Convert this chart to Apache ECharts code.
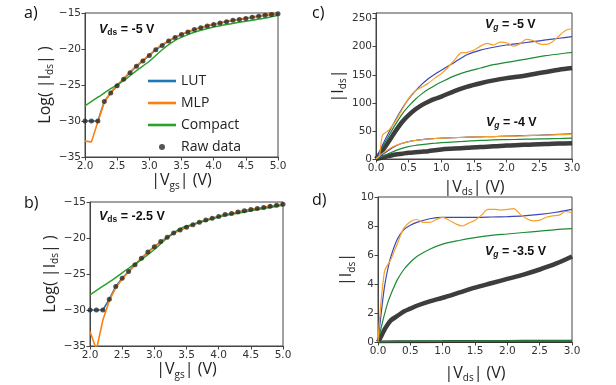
<!DOCTYPE html>
<html><head><meta charset="utf-8">
<script src="https://cdn.jsdelivr.net/npm/echarts@6/dist/echarts.min.js"></script>
<style>html,body{margin:0;padding:0;background:#fff}#c{width:616px;height:385px}</style>
</head><body><div id="c"></div>
<script>
// ---------- panel a / b : transfer curves ----------
const vgs = [2.0,2.1,2.2,2.3,2.4,2.5,2.6,2.7,2.8,2.9,3.0,3.1,3.2,3.3,3.4,3.5,3.6,3.7,3.8,3.9,4.0,4.1,4.2,4.3,4.4,4.5,4.6,4.7,4.8,4.9,5.0];
const rawA = [-30,-30,-30,-27.3,-26.1,-25.1,-24.2,-23.3,-22.4,-21.65,-20.9,-20.1,-19.5,-18.9,-18.4,-18.0,-17.65,-17.3,-17.05,-16.8,-16.6,-16.4,-16.2,-16.0,-15.9,-15.75,-15.6,-15.45,-15.3,-15.2,-15.1];
const lutA = [-30,-30,-30,-27.3,-26.1,-25.1,-24.2,-23.3,-22.4,-21.65,-20.9,-20.1,-19.5,-18.9,-18.4,-18.0,-17.65,-17.3,-17.05,-16.8,-16.6,-16.4,-16.2,-16.0,-15.9,-15.75,-15.6,-15.45,-15.3,-15.2,-15.1];
const mlpA = [-32.8,-32.9,-30.1,-27.4,-26.0,-25.0,-24.1,-23.2,-22.3,-21.55,-20.8,-20.0,-19.4,-18.85,-18.35,-17.95,-17.6,-17.25,-17.0,-16.75,-16.55,-16.35,-16.15,-16.0,-15.85,-15.7,-15.55,-15.4,-15.3,-15.2,-15.05];
const vgsCompact = [2.0,2.2,2.4,2.6,2.8,3.0,3.2,3.4,3.6,3.8,4.0,4.2,4.4,4.6,4.8,5.0];
const compactA = [-27.9,-26.7,-25.5,-24.4,-23.0,-21.7,-20.1,-18.8,-18.0,-17.4,-16.95,-16.6,-16.3,-16.0,-15.7,-15.3];

const rawB = [-30,-30,-30,-28.5,-26.75,-25.6,-24.65,-23.7,-22.8,-21.95,-21.2,-20.5,-19.9,-19.3,-18.9,-18.5,-18.15,-17.8,-17.5,-17.25,-17.0,-16.75,-16.6,-16.4,-16.2,-16.05,-15.9,-15.75,-15.6,-15.45,-15.3];
const lutB = [-30,-30,-30,-28.5,-26.75,-25.6,-24.65,-23.7,-22.8,-21.95,-21.2,-20.5,-19.9,-19.3,-18.9,-18.5,-18.15,-17.8,-17.5,-17.25,-17.0,-16.75,-16.6,-16.4,-16.2,-16.05,-15.9,-15.75,-15.6,-15.45,-15.3];
const mlpB = [-33.0,-35.5,-31.4,-28.7,-26.9,-25.7,-24.7,-23.75,-22.8,-22.0,-21.2,-20.55,-19.95,-19.35,-18.9,-18.5,-18.15,-17.8,-17.5,-17.25,-17.0,-16.75,-16.6,-16.4,-16.2,-16.05,-15.9,-15.75,-15.6,-15.45,-15.3];
const compactB = [-27.9,-26.7,-25.5,-24.2,-23.0,-21.6,-20.0,-18.7,-18.1,-17.6,-17.1,-16.7,-16.4,-16.05,-15.75,-15.45];

// ---------- panel c : output curves Vg = -5 V and -4 V ----------
const vdsC = [0,0.1,0.2,0.3,0.4,0.5,0.6,0.7,0.8,0.9,1.0,1.2,1.4,1.6,1.8,2.0,2.2,2.4,2.6,2.8,3.0];
const lutC5 = [0,25,48,70,90,107,121,133,143,151,158,172,186,194,199,203,206,209,212,215,218];
const compactC5 = [0,22,42,62,80,94,106,116,124,131,137,148,156,162,168,172,176,180,184,187,190];
const rawC5 = [0,15,32,50,66,78,88,96,102,107,111,121,129,135,140,144,147,151,155,159,162];
const vdsCmlp = [0,0.05,0.1,0.2,0.3,0.4,0.5,0.6,0.7,0.8,0.9,1.0,1.1,1.2,1.3,1.4,1.5,1.6,1.7,1.8,1.9,2.0,2.1,2.2,2.3,2.4,2.5,2.6,2.7,2.8,2.9,3.0];
const mlpC5 = [0,5,42,52,68,88,108,121,128,135,144,152,163,176,189,190,194,201,206,203,208,207,201,205,213,211,205,204,209,219,229,232];
const lutC4 = [0,8,16,23,28,31,33,34.5,36,36.5,37,38,39,39.5,40,41,41.5,42,43,44,45];
const mlpC4 = [0,10,18,24,28,31,33,34.5,35.5,36.5,37,38,39,39.5,40,40.5,41,42,42.5,43.5,44];
const compactC4 = [0,5,10,15,19,22,24,25.5,27,28,29,30.5,32,33,34,34.5,35,35.5,36,36.5,37];
const rawC4 = [0,3,5.5,8,9.5,11,12,13,14,15.5,17,18.5,20,21.5,22.5,24,25,26,26.5,27.5,28];

// ---------- panel d : output curves Vg = -3.5 V ----------
const vdsD = [0,0.05,0.1,0.15,0.2,0.3,0.4,0.5,0.6,0.8,1.0,1.25,1.5,1.75,2.0,2.25,2.5,2.75,3.0];
const lutD = [0,2.0,3.8,5.0,5.9,7.1,7.75,8.05,8.25,8.5,8.6,8.6,8.6,8.62,8.65,8.7,8.8,8.95,9.15];
const compactD = [0,1.0,1.9,2.7,3.3,4.3,5.0,5.5,5.9,6.4,6.75,7.0,7.2,7.35,7.45,7.55,7.65,7.75,7.82];
const rawD = [0,0.4,0.85,1.2,1.5,1.8,2.1,2.3,2.5,2.8,3.05,3.4,3.75,4.05,4.35,4.65,5.0,5.4,5.9];
const vdsDmlp = [0,0.1,0.2,0.3,0.4,0.5,0.6,0.7,0.8,0.9,1.0,1.1,1.2,1.3,1.4,1.5,1.6,1.7,1.8,1.9,2.0,2.1,2.2,2.3,2.4,2.5,2.6,2.7,2.8,2.9,3.0];
const mlpD = [0,4.85,5.7,6.8,7.85,8.3,8.45,8.25,8.25,8.45,8.6,8.4,8.15,8.0,8.2,8.4,8.75,9.15,9.15,9.1,9.15,9.2,8.8,8.5,8.35,8.4,8.6,8.7,8.75,9.0,8.9];
const vdsD3 = [0,0.5,1.0,1.5,2.0,2.5,3.0];
const rawD3 = [0,0.02,0.03,0.04,0.04,0.05,0.05];
const compactD3 = [0,0.05,0.06,0.06,0.07,0.07,0.07];

// ---------- build ----------
const zip = (xs, ys) => xs.map((x, i) => [x, ys[i]]);
const TICK = {fontFamily:'DejaVu Sans', fontSize:10.5, color:'#333', margin:4};
const NAME = {fontFamily:'Open Sans', fontSize:16, color:'#222',
  rich:{m:{fontFamily:'Open Sans', fontSize:16, lineHeight:20, color:'#222'},
        s:{fontFamily:'Open Sans', fontSize:10, lineHeight:10, verticalAlign:'bottom', color:'#222'}}};
const neg = v => String(v).replace('-', '\u2212');

function xAx(idx, min, max, interval, name, gap){
  return {gridIndex:idx, type:'value', min, max, interval, name, nameLocation:'middle', nameGap:gap,
    nameTextStyle:NAME, splitLine:{show:false},
    axisLine:{show:true, lineStyle:{color:'#444', width:1}},
    axisTick:{show:true, inside:false, length:3.5, lineStyle:{color:'#444'}},
    axisLabel:Object.assign({}, TICK, {formatter: v => v.toFixed(1)})};
}
function yAx(idx, min, max, interval, name, gap, fmt){
  return {gridIndex:idx, type:'value', min, max, interval, name, nameLocation:'middle', nameGap:gap,
    nameRotate:90, nameTextStyle:NAME, splitLine:{show:false},
    axisLine:{show:true, lineStyle:{color:'#444', width:1}},
    axisTick:{show:true, inside:false, length:3.5, lineStyle:{color:'#444'}},
    axisLabel:Object.assign({}, TICK, {formatter: fmt, showMaxLabel: true})};
}
function line(name, idx, data, color, width, smooth, z){
  return {type:'line', name, xAxisIndex:idx, yAxisIndex:idx, data, symbol:'none', showSymbol:false,
    smooth: smooth || false, lineStyle:{color, width}, itemStyle:{color}, z: z || 2, clip:true, animation:false};
}
const BLUE='#1f77b4', ORANGE='#ff7f0e', GREEN='#2ca02c';
const B2='#3a47b8', O2='#f7a128', G2='#1f8a35', RAWC='rgba(45,45,45,0.92)';

const grids = [
  {left:85, top:13, width:193, height:144},
  {left:90, top:202, width:193, height:144},
  {left:376, top:13, width:196, height:146},
  {left:378, top:197, width:194, height:145}
].map(g => Object.assign(g, {show:true, borderColor:'#444', borderWidth:1, containLabel:false, outerBoundsMode:'none'}));

const series = [
  line('LUT', 0, zip(vgs, lutA), BLUE, 1.6),
  line('MLP', 0, zip(vgs, mlpA), ORANGE, 1.6),
  line('Compact', 0, zip(vgsCompact, compactA), GREEN, 1.5, 0.3),
  {type:'scatter', name:'Raw data', xAxisIndex:0, yAxisIndex:0, data:zip(vgs, rawA), symbol:'circle', symbolSize:5, itemStyle:{color:'#2a2a2a'}, z:5, animation:false},

  line('LUT b', 1, zip(vgs, lutB), BLUE, 1.6),
  line('MLP b', 1, zip(vgs, mlpB), ORANGE, 1.6),
  line('Compact b', 1, zip(vgsCompact, compactB), GREEN, 1.5, 0.3),
  {type:'scatter', name:'Raw b', xAxisIndex:1, yAxisIndex:1, data:zip(vgs, rawB), symbol:'circle', symbolSize:5, itemStyle:{color:'#2a2a2a'}, z:5, animation:false},

  line('Raw c5', 2, zip(vdsC, rawC5), RAWC, 4.5, 0.3, 1),
  line('Raw c4', 2, zip(vdsC, rawC4), RAWC, 4.5, 0.3, 1),
  line('Compact c5', 2, zip(vdsC, compactC5), G2, 1.2, 0.3),
  line('Compact c4', 2, zip(vdsC, compactC4), G2, 1.2, 0.3),
  line('LUT c5', 2, zip(vdsC, lutC5), B2, 1.2, 0.3),
  line('LUT c4', 2, zip(vdsC, lutC4), B2, 1.2, 0.3),
  line('MLP c5', 2, zip(vdsCmlp, mlpC5), O2, 1.2, 0.3),
  line('MLP c4', 2, zip(vdsC, mlpC4), O2, 1.2, 0.3),

  line('Raw d', 3, zip(vdsD, rawD), RAWC, 4.5, 0.3, 1),
  line('Raw d3', 3, zip(vdsD3, rawD3), RAWC, 3, 0.3, 1),
  line('Compact d3', 3, zip(vdsD3, compactD3), G2, 1.5, 0.3),
  line('Compact d', 3, zip(vdsD, compactD), G2, 1.2, 0.3),
  line('LUT d', 3, zip(vdsD, lutD), B2, 1.2, 0.3),
  line('MLP d', 3, zip(vdsDmlp, mlpD), O2, 1.2, 0.3)
];

const RT = {
  v:{fontFamily:'Liberation Sans', fontSize:12.5, fontWeight:'bold', fontStyle:'italic', fill:'#111', lineHeight:16},
  s:{fontFamily:'Liberation Sans', fontSize:8.5, fontWeight:'bold', fill:'#111', lineHeight:9, verticalAlign:'bottom'},
  si:{fontFamily:'Liberation Sans', fontSize:8.5, fontWeight:'bold', fontStyle:'italic', fill:'#111', lineHeight:9, verticalAlign:'bottom'},
  t:{fontFamily:'Liberation Sans', fontSize:12.5, fontWeight:'bold', fill:'#111', lineHeight:16}
};
function note(x, y, txt){ return {type:'text', left:x, top:y, z:100, style:{text:txt, rich:RT}}; }
function panelLabel(x, y, t){ return {type:'text', left:x, top:y, z:100, style:{text:t, fontFamily:'Open Sans', fontSize:16, fill:'#111'}}; }

const LINE_ICON = 'path://M0,0M28,12M0,4.7h28v2.6h-28z';
const option = {
  animation:false,
  backgroundColor:'#fff',
  grid: grids,
  xAxis: [
    xAx(0, 2, 5, 0.5, '{m||V}{s|gs}{m|| (V)}', 13),
    xAx(1, 2, 5, 0.5, '{m||V}{s|gs}{m|| (V)}', 12),
    xAx(2, 0, 3, 0.5, '{m||V}{s|ds}{m|| (V)}', 18),
    xAx(3, 0, 3, 0.5, '{m||V}{s|ds}{m|| (V)}', 21)
  ],
  yAxis: [
    yAx(0, -35, -15, 5, '{m|Log( |I}{s|ds}{m|| )}', 19, neg),
    yAx(1, -35, -15, 5, '{m|Log( |I}{s|ds}{m|| )}', 22, neg),
    yAx(2, 0, 260, 50, '{m||I}{s|ds}{m||}', 25, v => (v % 50 === 0 ? String(v) : '')),
    yAx(3, 0, 10, 2, '{m||I}{s|ds}{m||}', 16, v => String(v))
  ],
  legend: {
    data:[{name:'LUT', icon:LINE_ICON},{name:'MLP', icon:LINE_ICON},{name:'Compact', icon:LINE_ICON},
          {name:'Raw data', icon:'path://M0,0M28,12M11,6a3,3 0 1,0 6,0a3,3 0 1,0 -6,0z'}],
    orient:'vertical', left:143, top:69, itemWidth:28, itemHeight:12, itemGap:8,
    textStyle:{fontFamily:'Open Sans', fontSize:14, color:'#222'},
    selectedMode:false
  },
  series,
  graphic: [
    panelLabel(24, 5, 'a)'),
    panelLabel(24, 195, 'b)'),
    panelLabel(312, 5, 'c)'),
    panelLabel(312, 192, 'd)'),
    note(99, 23, '{v|V}{s|ds}{t| = -5 V}'),
    note(99, 210, '{v|V}{s|ds}{t| = -2.5 V}'),
    note(485, 18, '{v|V}{si|g}{t| = -5 V}'),
    note(486, 116, '{v|V}{si|g}{t| = -4 V}'),
    note(485, 245, '{v|V}{si|g}{t| = -3.5 V}')
  ]
};
const chart = echarts.init(document.getElementById('c'), null, {renderer:'canvas'});
chart.setOption(option);
</script></body></html>
